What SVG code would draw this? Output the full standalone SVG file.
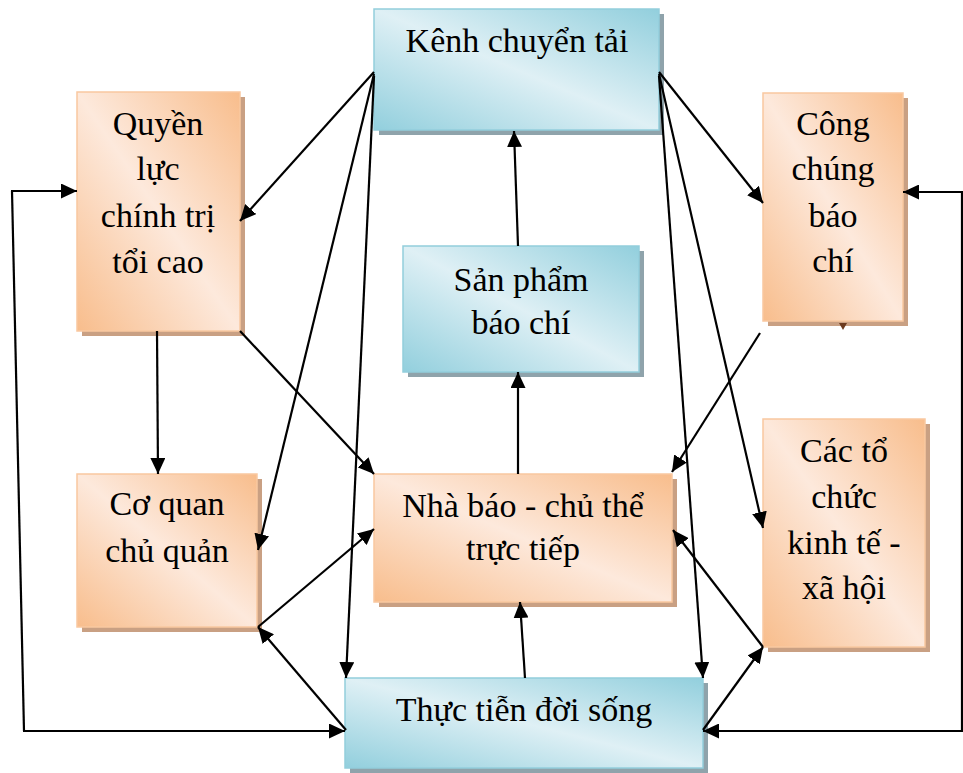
<svg xmlns="http://www.w3.org/2000/svg" width="963" height="773" viewBox="0 0 963 773">
<defs>
<linearGradient id="gOr" x1="0" y1="1" x2="1" y2="0">
<stop offset="0" stop-color="#f8bd8c"/>
<stop offset="0.5" stop-color="#fde9dc"/>
<stop offset="1" stop-color="#f8bd8c"/>
</linearGradient>
<linearGradient id="gBl" x1="0" y1="1" x2="1" y2="0">
<stop offset="0" stop-color="#92cfdd"/>
<stop offset="0.5" stop-color="#dff0f5"/>
<stop offset="1" stop-color="#92cfdd"/>
</linearGradient>
<marker id="ah" markerUnits="userSpaceOnUse" markerWidth="17" markerHeight="15" refX="16" refY="7.5" orient="auto">
<path d="M0,0 L16,7.5 L0,15 z" fill="#000"/>
</marker>
<style>
.or{fill:url(#gOr);stroke:#f9c8a0;stroke-width:1.5}
.bl{fill:url(#gBl);stroke:#93cedc;stroke-width:1.5}
.sor{fill:#c9a083}
.sbl{fill:#8fa3ab}
text{font-family:"Liberation Serif","Times New Roman",serif;font-size:34px;fill:#000;text-anchor:middle}
.c path{fill:none;stroke:#000;stroke-width:2.2}
.c path.a{marker-end:url(#ah)}
</style>
</defs>

<g id="kenh">
<rect class="sbl" x="379" y="14" width="285" height="121"/>
<rect class="bl" x="374" y="9" width="285" height="121"/>
<text x="517" y="52">Kênh chuyển tải</text>
</g>

<g id="quyenluc">
<rect class="sor" x="82" y="97" width="163" height="239"/>
<rect class="or" x="77" y="92" width="163" height="239"/>
<text x="158" y="135">Quyền</text>
<text x="158" y="180">lực</text>
<text x="158" y="227">chính trị</text>
<text x="158" y="273">tổi cao</text>
</g>

<g id="congchung">
<rect class="sor" x="768" y="98" width="140" height="228"/>
<rect class="or" x="763" y="93" width="140" height="228"/>
<text x="833" y="135">Công</text>
<text x="833" y="180">chúng</text>
<text x="833" y="227">báo</text>
<text x="833" y="272">chí</text>
<path d="M839,323 L847,323 L843,330 z" fill="#6b3a1e"/>
</g>

<g id="sanpham">
<rect class="sbl" x="408" y="251" width="236" height="126"/>
<rect class="bl" x="403" y="246" width="236" height="126"/>
<text x="521" y="291">Sản phẩm</text>
<text x="521" y="334">báo chí</text>
</g>

<g id="coquan">
<rect class="sor" x="82" y="479" width="180" height="153"/>
<rect class="or" x="77" y="474" width="180" height="153"/>
<text x="167" y="515">Cơ quan</text>
<text x="167" y="562">chủ quản</text>
</g>

<g id="nhabao">
<rect class="sor" x="379" y="479" width="298" height="128"/>
<rect class="or" x="374" y="474" width="298" height="128"/>
<text x="523" y="517">Nhà báo - chủ thể</text>
<text x="523" y="560">trực tiếp</text>
</g>

<g id="cactochuc">
<rect class="sor" x="768" y="424" width="162" height="228"/>
<rect class="or" x="763" y="419" width="162" height="228"/>
<text x="844" y="462">Các tổ</text>
<text x="844" y="508">chức</text>
<text x="844" y="554">kinh tế -</text>
<text x="844" y="599">xã hội</text>
</g>

<g id="thuctien">
<rect class="sbl" x="350" y="683" width="358" height="90"/>
<rect class="bl" x="345" y="678" width="358" height="90"/>
<text x="524" y="721">Thực tiễn đời sống</text>
</g>

<g id="connectors" class="c">
<path class="a" d="M374,72 L240,221"/>
<path class="a" d="M374,74 L258,550"/>
<path class="a" d="M374,76 L346,678"/>
<path class="a" d="M659,72 L763,203"/>
<path class="a" d="M659,74 L763,528"/>
<path class="a" d="M659,76 L703,678"/>
<path class="a" d="M518,246 L514,131"/>
<path class="a" d="M518,474 L518,372"/>
<path class="a" d="M157,331 L158,474"/>
<path class="a" d="M240,331 L374,474"/>
<path class="a" d="M760,333 L672,472"/>
<path class="a" d="M258,627 L374,529"/>
<path class="a" d="M346,730 L258,627"/>
<path class="a" d="M525,678 L520,602"/>
<path class="a" d="M703,730 L763,647"/>
<path class="a" d="M763,647 L673,530"/>
<path d="M24,731 L12,191"/>
<path class="a" d="M11,191 L77,191"/>
<path class="a" d="M23,731 L345,731"/>
<path d="M962,192 L962,731"/>
<path class="a" d="M963,192 L903,192"/>
<path class="a" d="M963,731 L703,731"/>
</g>
</svg>
